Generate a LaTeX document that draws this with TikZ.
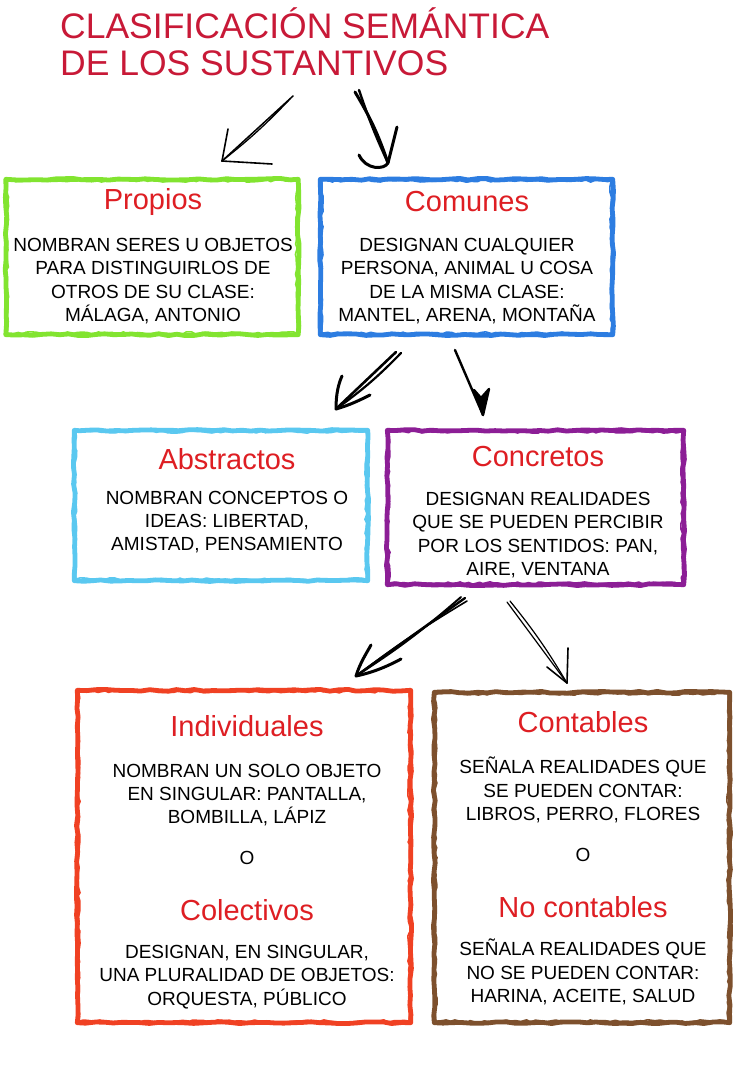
\documentclass[tikz,border=0pt]{standalone}
\usepackage{fontspec}
\setmainfont{Liberation Sans}
\usetikzlibrary{decorations.pathmorphing,calc}
\definecolor{ttl}{RGB}{200,25,55}
\definecolor{hred}{RGB}{222,30,35}
\definecolor{cgreen}{RGB}{130,228,48}
\definecolor{cblue}{RGB}{45,125,225}
\definecolor{ccyan}{RGB}{90,200,240}
\definecolor{cpurple}{RGB}{140,30,150}
\definecolor{corange}{RGB}{240,65,35}
\definecolor{cbrown}{RGB}{125,80,45}
\begin{document}
\pgfmathsetseed{7}
\begin{tikzpicture}[x=1pt,y=-1pt,
  box/.style={draw=none,rectangle,inner sep=0pt},
  frame/.style={line width=4.8pt,line join=round,line cap=round,decorate,
    decoration={random steps,segment length=9pt,amplitude=0.9pt}},
  frame2/.style={line width=1.6pt,line join=round,line cap=round,decorate,
    decoration={random steps,segment length=5pt,amplitude=1.4pt}},
  head/.style={text=hred,font=\fontsize{29}{32}\selectfont},
  body/.style={align=center,font=\fontsize{19}{23.2}\selectfont,inner sep=0pt},
  pen/.style={line width=2.6pt,line cap=round,line join=round},
  thin pen/.style={line width=1.2pt,line cap=round,line join=round}]
\useasboundingbox (0,0) rectangle (736,1079);
\fill[white] (0,0) rectangle (736,1079);

% title
\node[anchor=north west,text=ttl,align=left,inner sep=0pt,
  font=\fontsize{35.5}{37}\selectfont] (title) at (60,8)
  {CLASIFICACIÓN SEMÁNTICA\\DE LOS SUSTANTIVOS};

% boxes
\node[box,minimum width=292pt,minimum height=155pt] (propios) at (152,257) {};
\node[box,minimum width=292pt,minimum height=155pt] (comunes) at (466.5,257) {};
\node[box,minimum width=293pt,minimum height=150pt] (abstractos) at (221,505.5) {};
\node[box,minimum width=296pt,minimum height=154pt] (concretos) at (535.5,507.5) {};
\node[box,minimum width=333pt,minimum height=332pt] (individuales) at (244,856.5) {};
\node[box,minimum width=295pt,minimum height=330pt] (contables) at (582,857.5) {};

\foreach \n/\c in {propios/cgreen,comunes/cblue,abstractos/ccyan,
  concretos/cpurple,individuales/corange,contables/cbrown}{
  \draw[frame,draw=\c] (\n.north west) rectangle (\n.south east);
  \draw[frame2,draw=\c] ($(\n.north west)+(1.5,1.5)$) rectangle ($(\n.south east)+(-1.5,-1.5)$);
}

% texts
\node[head] (tpropios) at (153,202) {Propios};
\node[body] (bpropios) at (153,281) {NOMBRAN SERES U OBJETOS\\PARA DISTINGUIRLOS DE\\OTROS DE SU CLASE:\\MÁLAGA, ANTONIO};

\node[head] (tcomunes) at (467,202) {Comunes};
\node[body] (bcomunes) at (467,281) {DESIGNAN CUALQUIER\\PERSONA, ANIMAL U COSA\\DE LA MISMA CLASE:\\MANTEL, ARENA, MONTAÑA};

\node[head] (tabstractos) at (227,459) {Abstractos};
\node[body] (babstractos) at (227,522) {NOMBRAN CONCEPTOS O\\IDEAS: LIBERTAD,\\AMISTAD, PENSAMIENTO};

\node[head] (tconcretos) at (538,457) {Concretos};
\node[body] (bconcretos) at (538,535) {DESIGNAN REALIDADES\\QUE SE PUEDEN PERCIBIR\\POR LOS SENTIDOS: PAN,\\AIRE, VENTANA};

\node[head] (tindiv) at (247,726) {Individuales};
\node[body] (bindiv) at (247,795) {NOMBRAN UN SOLO OBJETO\\EN SINGULAR: PANTALLA,\\BOMBILLA, LÁPIZ};
\node[body] (oindiv) at (247,858) {O};
\node[head] (tcolec) at (247,910) {Colectivos};
\node[body] (bcolec) at (247,977) {DESIGNAN, EN SINGULAR,\\UNA PLURALIDAD DE OBJETOS:\\ORQUESTA, PÚBLICO};

\node[head] (tcont) at (583,722) {Contables};
\node[body] (bcont) at (583,790) {SEÑALA REALIDADES QUE\\SE PUEDEN CONTAR:\\LIBROS, PERRO, FLORES};
\node[body] (ocont) at (583,855) {O};
\node[head] (tnocont) at (583,907) {No contables};
\node[body] (bnocont) at (583,972) {SEÑALA REALIDADES QUE\\NO SE PUEDEN CONTAR:\\HARINA, ACEITE, SALUD};

% arrows: title -> propios / comunes
\coordinate (a1s) at (293,96); \coordinate (a1t) at (222,161);
\draw[thin pen,line width=1.5pt] (a1s) -- (a1t);
\draw[thin pen,line width=1.3pt] ($(a1s)+(-3,3)$) to[bend left=4] (a1t);
\draw[thin pen,line width=1.6pt] (a1t) -- (228,129);
\draw[thin pen,line width=1.6pt] (a1t) -- (272,164);

\coordinate (a2s) at (355,92); \coordinate (a2t) at (388,163);
\draw[pen,line width=3pt] (a2s) to[bend left=6] (a2t);
\draw[pen,line width=2.4pt] ($(a2s)+(4,-2)$) to[bend right=3] (a2t);
\draw[pen,line width=3pt] (359,155) .. controls (366,170) and (384,170) .. (a2t);
\draw[pen,line width=3pt] (a2t) -- (397,127);

% comunes -> abstractos / concretos
\coordinate (a3s) at (396,352); \coordinate (a3t) at (336,409);
\draw[pen,line width=2.6pt] (a3s) -- (a3t);
\draw[pen,line width=2.2pt] ($(a3s)+(5,1)$) to[bend left=5] (a3t);
\draw[pen,line width=3pt] (a3t) .. controls (336,395) and (338,385) .. (342,376);
\draw[pen,line width=3pt] (a3t) .. controls (350,405) and (360,400) .. (370,395);

\coordinate (a4s) at (455,350); \coordinate (a4t) at (483,415);
\draw[pen,line width=2.4pt] (a4s) -- (a4t);
\draw[pen,line width=2.4pt,fill=black] (474,390) -- (a4t) -- (489,389) -- (481,398) -- cycle;

% concretos -> individuales / contables
\coordinate (a5s) at (465,598); \coordinate (a5t) at (356,676);
\draw[pen,line width=2.4pt] (a5s) -- (a5t);
\draw[pen,line width=2pt] ($(a5s)+(-4,-1)$) to[bend left=4] (a5t);
\draw[pen,line width=1.6pt] ($(a5s)+(2,3)$) to[bend right=3] (a5t);
\draw[pen,line width=3pt] (a5t) .. controls (360,663) and (366,654) .. (371,645);
\draw[pen,line width=3pt] (a5t) .. controls (375,672) and (390,665) .. (401,659);

\coordinate (a6s) at (507,602); \coordinate (a6t) at (567,683);
\draw[thin pen] (a6s) -- (a6t);
\draw[thin pen] ($(a6s)+(3,-1)$) to[bend left=4] (a6t);
\draw[thin pen,line width=1.6pt] (a6t) -- (568,648);
\draw[thin pen,line width=1.6pt] (a6t) -- (547,667);
\end{tikzpicture}
\end{document}
